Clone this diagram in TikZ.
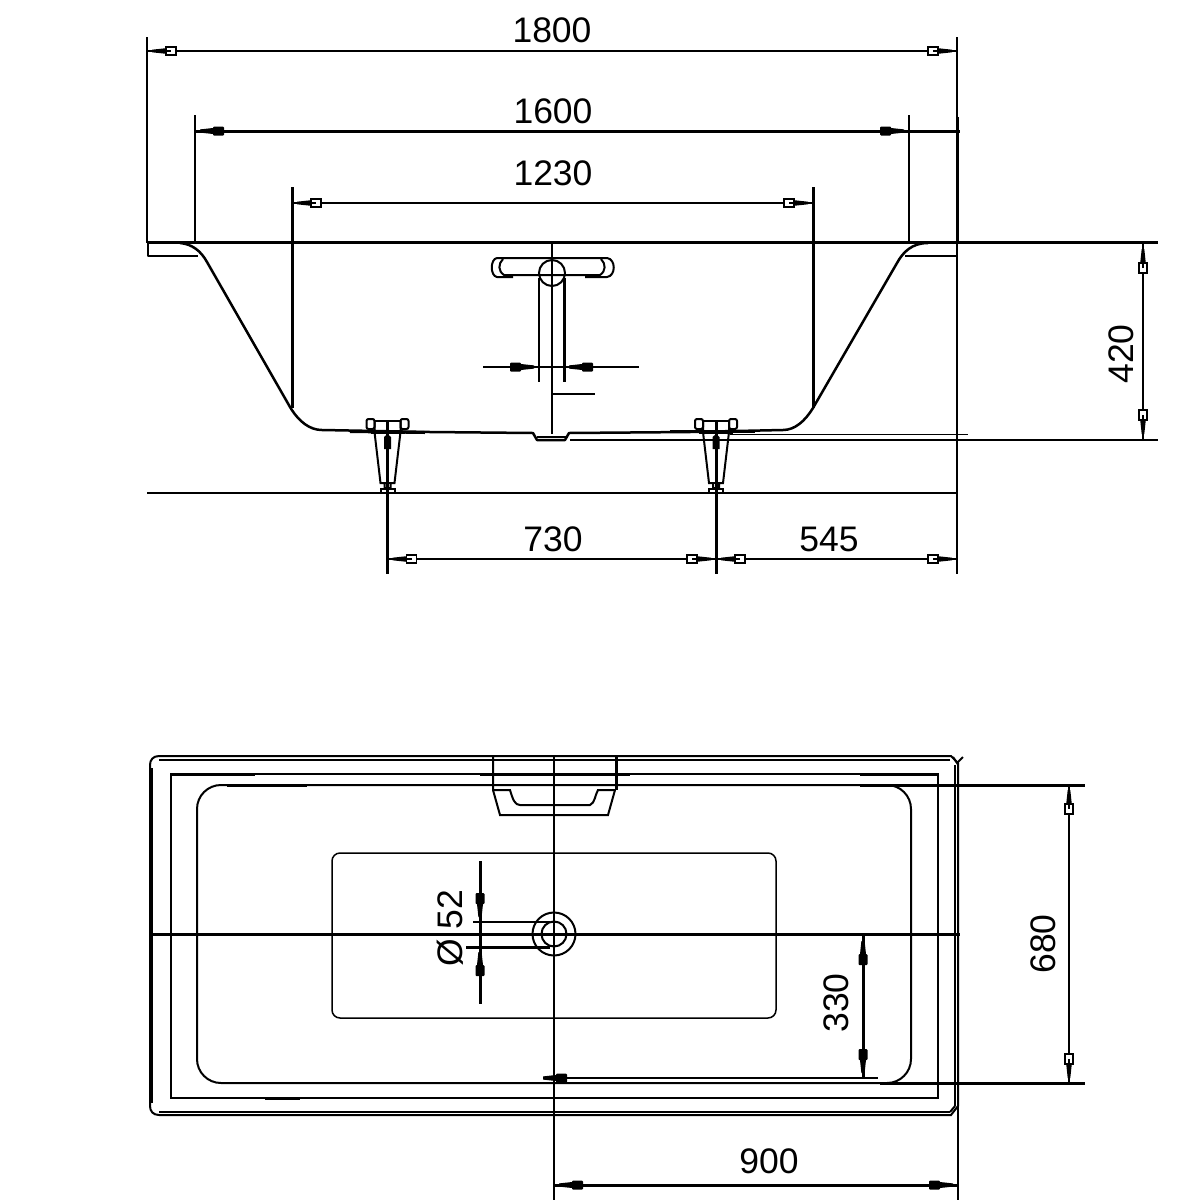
\documentclass[tikz,border=0pt]{standalone}
\usepackage{fontspec}
\setmainfont{Liberation Sans}
\newcommand{\dimtip}[3]{% apex x, y, angle: tip points along angle
  \begin{scope}[shift={(#1,#2)},rotate=#3]
    \fill (-5,-1.3) -- (-5,1.3) -- (-19,2.8) -- (-19,-2.8) -- cycle;
    \draw[line width=1.4pt,fill=white] (-29,-4) rectangle (-19,4);
    \fill (-24,-1) rectangle (-19,1);
  \end{scope}}
\newcommand{\dimtipf}[3]{%
  \begin{scope}[shift={(#1,#2)},rotate=#3]
    \fill (-5,-1.6) -- (-5,1.6) -- (-18,3) -- (-18,-3) -- cycle;
    \fill[rounded corners=1pt] (-29,-4.5) rectangle (-18,4.5);
  \end{scope}}
\tikzset{
  thinl/.style={line width=1.5pt},
  hair/.style={line width=1.2pt},
  midl/.style={line width=2pt},
  heavy/.style={line width=3pt},
  tub/.style={line width=2.5pt,line join=round},
  dimlabel/.style={font=\fontsize{35.5}{36}\selectfont,inner sep=0pt,text=black}
}
\begin{document}
\begin{tikzpicture}[x=1pt,y=-1pt]
\useasboundingbox (0,0) rectangle (1200,1200);
\fill[white] (0,0) rectangle (1200,1200);

% ---- Elevation: coordinates
\coordinate (a1) at (147,51); \coordinate (a2) at (957,51);
\coordinate (b1) at (195,131); \coordinate (b2) at (960,131);
\coordinate (c1) at (292,203); \coordinate (c2) at (813,203);
% extension lines
\draw[thinl] (147,37) -- (147,243);
\draw[thinl] (957,37) -- (957,117);
\draw[heavy] (957,117) -- (957,243);
\draw[thinl] (957,243) -- (957,574);
\draw[thinl] (195,115) -- (195,243);
\draw[thinl] (909,115) -- (909,243);
\draw[heavy] (292,187) -- (292,408);
\draw[heavy] (813,187) -- (813,408);
% dimension lines
\draw[midl] (a1) -- (a2);
\draw[heavy] (b1) -- (b2);
\draw[thinl] (c1) -- (c2);
\dimtip{147}{51}{180} \dimtip{957}{51}{0}
\dimtipf{195}{131}{180} \dimtipf{909}{131}{0}
\dimtip{292}{203}{180} \dimtip{813}{203}{0}
\node[dimlabel] (t1800) at (552,30) {1800};
\node[dimlabel] (t1600) at (553,111) {1600};
\node[dimlabel] (t1230) at (553,173) {1230};

% rim line
\draw[heavy] (147,242) -- (1158,242);
% tub section
\draw[tub] (148,243) -- (148,256) -- (198,256);
\draw[tub] (925,243) -- (957,243) -- (957,256) -- (905,256);
\draw[tub] (180,243) .. controls (192,244) and (201,251) .. (207,262)
  -- (290,407) .. controls (299,422) and (310,430) .. (322,430)
  -- (430,432) -- (533,433) -- (537,440) -- (565,440) -- (569,433) -- (690,432) -- (783,430)
  .. controls (795,430) and (805,421) .. (813,408)
  -- (897,263) .. controls (903,252) and (912,243) .. (928,243);
\draw[hair] (537,437) -- (568,437);
\draw[midl] (570,440) -- (1158,440);
\draw[hair] (730,434.5) -- (968,434.5);
\draw[heavy] (670,431.5) -- (755,431.5);
\draw[heavy] (350,431.5) -- (425,432.5);
\draw[midl] (147,493) -- (957,493);
% 420 dimension
\coordinate (e1) at (1143,243); \coordinate (e2) at (1143,440);
\draw[thinl] (e1) -- (e2);
\dimtip{1143}{244}{90} \dimtip{1143}{439}{-90}
\node[dimlabel,rotate=90] (t420) at (1121,354) {420};

% overflow
\draw[midl] (513,277) -- (497,277) .. controls (490,276) and (490,259) .. (497,258) -- (607,258)
  .. controls (616,259) and (616,276) .. (607,277) -- (585,277);
\draw[midl] (503,259) .. controls (498,264) and (498,271) .. (504,275) -- (600,275)
  .. controls (606,271) and (606,264) .. (601,259);
\draw[midl] (552,273) circle (13);
\draw[thinl] (552,243) -- (552,434);
\draw[midl] (539,278) -- (539,382);
\draw[heavy] (564,278) -- (564,382);
\draw[midl] (483,367) -- (639,367);
\dimtipf{539}{367}{0} \dimtipf{564}{367}{180}
\draw[hair] (551,394) -- (595,394);

% feet
\foreach \fx/\fn in {387.5/fa,716/fb}{
  \coordinate (\fn) at (\fx,421);
  \begin{scope}[shift={(\fx,0)}]
    \draw[midl,rounded corners=2pt] (-21,419) rectangle (-13,429);
    \draw[midl,rounded corners=2pt] (13,419) rectangle (21,429);
    \draw[midl] (-13,421) -- (13,421);
    \draw[midl] (-13,421) -- (-13,432) -- (-7,483) -- (-3,483) -- (-3,488) -- (3,488) -- (3,483) -- (7,483) -- (13,432) -- (13,421);
    \draw[midl] (-7,483) -- (7,483);
    \draw[midl] (-7,488.5) rectangle (7,493);
    \draw[heavy] (-17,432) -- (17,432);
    \fill (-3.5,449) -- (-3.5,437) -- (0,434) -- (3.5,437) -- (3.5,449) -- cycle;
  \end{scope}
}
\draw[line width=2.5pt] (fa) -- (387.5,574);
\draw[heavy] (fb) -- (716,574);
% 730 / 545
\coordinate (d1) at (387.5,559); \coordinate (d2) at (716,559); \coordinate (d3) at (957,559);
\draw[thinl] (d1) -- (d2);
\draw[thinl] (d2) -- (d3);
\dimtip{387.5}{559}{180} \dimtip{716}{559}{0}
\dimtip{716}{559}{180} \dimtip{957}{559}{0}
\node[dimlabel] (t730) at (553,539) {730};
\node[dimlabel] (t545) at (829,539) {545};

% ---- Plan
% outer rim (double line)
\draw[midl] (159,756) -- (951,756) -- (958,763) -- (958,1106) -- (951,1115) -- (159,1115)
  .. controls (153,1115) and (150,1111) .. (150,1106) -- (150,765) .. controls (150,760) and (153,756) .. (159,756) -- cycle;
\draw[hair] (159,760) -- (950,760);
\draw[hair] (159,1112) -- (950,1112);
\draw[heavy] (151,768) -- (151,1103);
\draw[thinl] (955,765) -- (955,1106);
\draw[midl] (953,757) -- (957,763) -- (963,757);
\draw[midl] (950,1112) -- (955,1106);
% second rectangle
\draw[midl] (171,774) -- (938,774) -- (938,1098) -- (171,1098) -- cycle;
\draw[heavy] (171,774) -- (255,774);
\draw[heavy] (480,774) -- (630,774);
\draw[heavy] (860,774) -- (938,774);
\draw[heavy] (265,1098) -- (300,1098);
% inner rounded
\draw[midl,rounded corners=24pt] (197,785) rectangle (911,1083);
% floor
\draw[thinl,rounded corners=8pt] (332,853) rectangle (776,1018);
% heavy lines
\draw[heavy] (227,785) -- (307,785);
\draw[heavy] (860,785) -- (1085,785);
\draw[heavy] (151,934) -- (960,934);
\draw[heavy] (880,1083) -- (1085,1083);
\draw[thinl] (554,756) -- (554,1200);
% overflow in plan
\draw[midl] (493,757) -- (493,790) -- (500,815) -- (608,815) -- (615,790);
\draw[heavy] (616,757) -- (616,790);
\draw[midl] (493,790) -- (510,790) .. controls (513,800) and (515,805) .. (520,805)
  -- (590,805) .. controls (595,803) and (595,795) .. (598,790) -- (615,790);
% waste
\draw[midl] (554,934) circle (21.5);
\draw[midl] (554,934) circle (12.5);
\draw[thinl] (473,922) -- (550,922);
\draw[heavy] (466,947) -- (550,947);
\draw[heavy] (480,861) -- (480,1004);
\dimtipf{480}{922}{-90} \dimtipf{480}{947}{90}
\node[dimlabel,rotate=90] (t52) at (450,928) {Ø 52};
% 330
\coordinate (g1) at (863,936); \coordinate (g2) at (863,1078);
\draw[heavy] (g1) -- (g2);
\dimtipf{863}{936}{90} \dimtipf{863}{1078}{-90}
\draw[thinl] (553,1078) -- (878,1078);
\dimtipf{538}{1078}{180}
\node[dimlabel,rotate=90] (t330) at (836,1003) {330};
% 680
\coordinate (h1) at (1069,785); \coordinate (h2) at (1069,1083);
\draw[thinl] (h1) -- (h2);
\dimtip{1069}{785}{90} \dimtip{1069}{1083}{-90}
\node[dimlabel,rotate=90] (t680) at (1043,944) {680};
% 900
\coordinate (k1) at (554,1185); \coordinate (k2) at (958,1185);
\draw[thinl] (958,1106) -- (958,1200);
\draw[heavy] (k1) -- (k2);
\dimtipf{554}{1185}{180} \dimtipf{958}{1185}{0}
\node[dimlabel] (t900) at (769,1161) {900};
\end{tikzpicture}
\end{document}
